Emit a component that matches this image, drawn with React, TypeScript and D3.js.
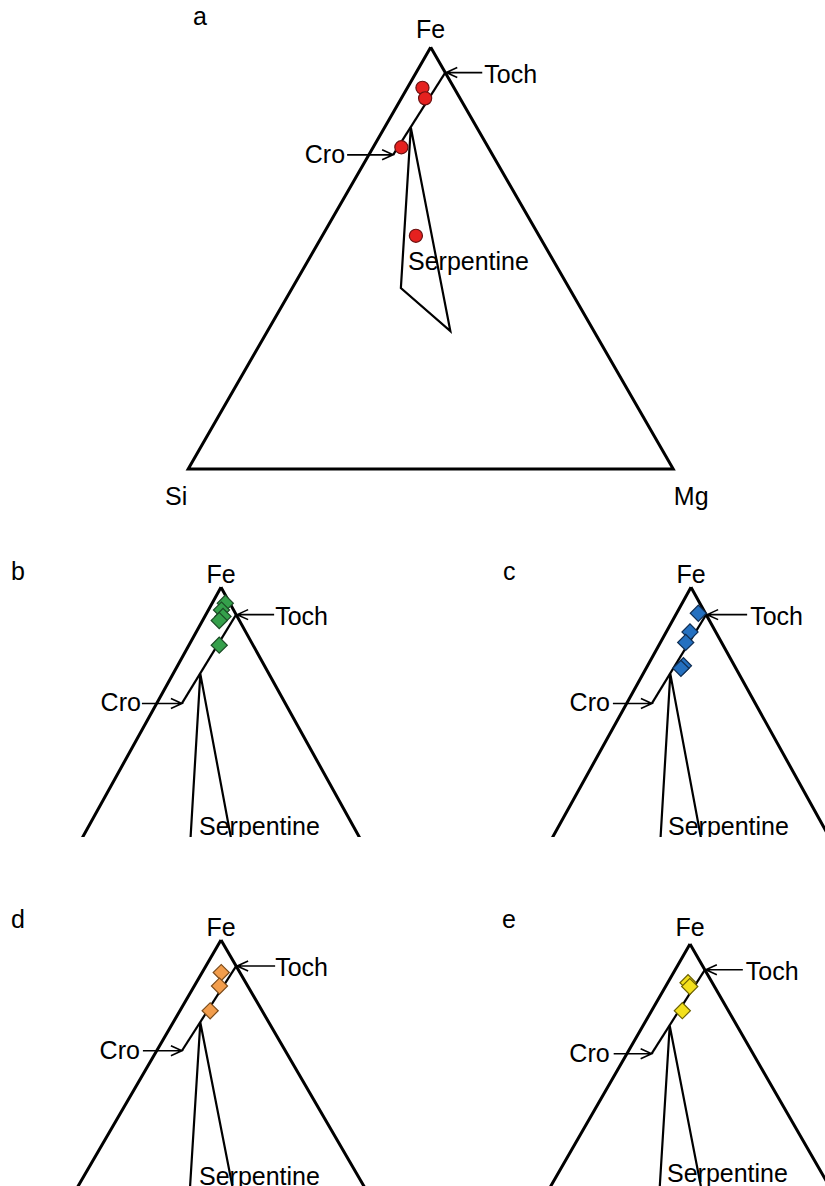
import React, { useEffect, useRef } from "react";
import * as d3 from "d3";

// compositions, fractions of Fe, Si, Mg
const corners = [
  { name: "Fe", fe: 1, si: 0, mg: 0 },
  { name: "Si", fe: 0, si: 1, mg: 0 },
  { name: "Mg", fe: 0, si: 0, mg: 1 },
];

// tochilinite -> cronstedtite tie line
const tochCroLine = [
  { fe: 0.94, si: 0.0, mg: 0.06 },
  { fe: 0.745, si: 0.205, mg: 0.05 },
];

const serpentineField = [
  { fe: 0.81, si: 0.136, mg: 0.054 },
  { fe: 0.429, si: 0.347, mg: 0.224 },
  { fe: 0.327, si: 0.296, mg: 0.377 },
];

const samplesA = [
  { fe: 0.904, si: 0.065, mg: 0.031 },
  { fe: 0.879, si: 0.072, mg: 0.049 },
  { fe: 0.763, si: 0.179, mg: 0.058 },
  { fe: 0.553, si: 0.254, mg: 0.193 },
];

const samplesB = [
  { fe: 0.965, si: 0.009, mg: 0.026 },
  { fe: 0.95, si: 0.024, mg: 0.026 },
  { fe: 0.936, si: 0.028, mg: 0.036 },
  { fe: 0.927, si: 0.04, mg: 0.033 },
  { fe: 0.873, si: 0.067, mg: 0.06 },
];

const samplesC = [
  { fe: 0.943, si: 0.014, mg: 0.043 },
  { fe: 0.902, si: 0.051, mg: 0.047 },
  { fe: 0.879, si: 0.071, mg: 0.05 },
  { fe: 0.828, si: 0.101, mg: 0.071 },
  { fe: 0.822, si: 0.109, mg: 0.069 },
];

const samplesD = [
  { fe: 0.925, si: 0.037, mg: 0.038 },
  { fe: 0.894, si: 0.056, mg: 0.05 },
  { fe: 0.837, si: 0.103, mg: 0.06 },
];

const samplesE = [
  { fe: 0.91, si: 0.049, mg: 0.041 },
  { fe: 0.901, si: 0.05, mg: 0.049 },
  { fe: 0.845, si: 0.093, mg: 0.062 },
];

const HALF = 242.5;
const HEIGHT = 421.7;
const FONT = "'Liberation Sans', Arial, sans-serif";

const panels = [
  {
    id: "a", apex: [430.7, 47.3], kx: 1, ky: 1, clip: null, data: samplesA,
    marker: "circle", fill: "#e5211f", stroke: "#6a1010",
    letter: [200, 25], letterAnchor: "middle", feDy: -9, corners: true,
    toch: [36, 38], cro: [46, 48], serp: [408, 270],
  },
  {
    id: "b", apex: [221, 587.3], kx: 1.04, ky: 1.08, clip: 837, data: samplesB,
    marker: "diamond", fill: "#35a04b", stroke: "#1b4a25",
    letter: [11, 580], letterAnchor: "start", feDy: -4, corners: false,
    toch: [37, 38], cro: [40, 41], serp: [199, 835],
  },
  {
    id: "c", apex: [691, 587.3], kx: 1.04, ky: 1.08, clip: 837, data: samplesC,
    marker: "diamond", fill: "#2470c0", stroke: "#0f2d52",
    letter: [503, 580], letterAnchor: "start", feDy: -4, corners: false,
    toch: [40, 43], cro: [39, 42], serp: [668, 835],
  },
  {
    id: "d", apex: [221, 940], kx: 1.04, ky: 1.03, clip: null, data: samplesD,
    marker: "diamond", fill: "#f29d4c", stroke: "#7a4a1a",
    letter: [11, 928], letterAnchor: "start", feDy: -4, corners: false,
    toch: [38, 38], cro: [39, 42], serp: [199, 1185],
  },
  {
    id: "e", apex: [690, 944], kx: 1.02, ky: 1.02, clip: null, data: samplesE,
    marker: "diamond", fill: "#f3e01c", stroke: "#6b6000",
    letter: [502, 928], letterAnchor: "start", feDy: -8, corners: false,
    toch: [37, 40], cro: [38, 42], serp: [667, 1182],
  },
];

const App = () => {
  const svgRef = useRef<SVGSVGElement>(null);

  useEffect(() => {
    const svg = d3.select(svgRef.current);
    svg.selectAll("*").remove();

    const defs = svg.append("defs");

    panels.forEach((p) => {
      const x = d3.scaleLinear()
        .domain([-1, 1])
        .range([p.apex[0] - HALF * p.kx, p.apex[0] + HALF * p.kx]);
      const y = d3.scaleLinear()
        .domain([1, 0])
        .range([p.apex[1], p.apex[1] + HEIGHT * p.ky]);
      const px = (d) => x(d.mg - d.si);
      const py = (d) => y(d.fe);
      const line = d3.line().x(px).y(py);

      const g = svg.append("g");
      let body = g;
      if (p.clip) {
        defs.append("clipPath").attr("id", "clip-" + p.id)
          .append("rect")
          .attr("x", p.apex[0] - 300).attr("y", 0)
          .attr("width", 600).attr("height", p.clip);
        body = g.append("g").attr("clip-path", `url(#clip-${p.id})`);
      }

      // triangle
      body.append("path")
        .attr("d", line([...corners, corners[0]]))
        .attr("fill", "none")
        .attr("stroke", "#000")
        .attr("stroke-width", 3)
        .attr("stroke-linejoin", "miter");

      body.append("path")
        .attr("d", line(tochCroLine))
        .attr("fill", "none")
        .attr("stroke", "#000")
        .attr("stroke-width", 2.2);

      body.append("path")
        .attr("d", line([...serpentineField, serpentineField[0]]))
        .attr("fill", "none")
        .attr("stroke", "#000")
        .attr("stroke-width", 2.2);

      body.append("text")
        .attr("x", p.serp[0]).attr("y", p.serp[1])
        .attr("font-family", FONT).attr("font-size", 25)
        .text("Serpentine");

      // arrows
      const arrow = (tip, len, dir) => {
        const [tx, ty] = tip;
        body.append("path")
          .attr("d", `M${tx + dir * len},${ty}L${tx},${ty}` +
            `M${tx + dir * 11},${ty - 5}L${tx},${ty}L${tx + dir * 11},${ty + 5}`)
          .attr("fill", "none")
          .attr("stroke", "#000")
          .attr("stroke-width", 1.6);
      };
      const tochTip = [px(tochCroLine[0]) + 1, py(tochCroLine[0])];
      const croTip = [px(tochCroLine[1]), py(tochCroLine[1])];
      arrow(tochTip, p.toch[0], 1);
      arrow(croTip, p.cro[0], -1);

      body.append("text")
        .attr("x", tochTip[0] + p.toch[1]).attr("y", tochTip[1] + 10)
        .attr("font-family", FONT).attr("font-size", 25)
        .text("Toch");
      body.append("text")
        .attr("x", croTip[0] - p.cro[1]).attr("y", croTip[1] + 8)
        .attr("text-anchor", "end")
        .attr("font-family", FONT).attr("font-size", 25)
        .text("Cro");

      // samples
      const sym = p.marker === "circle"
        ? d3.symbol(d3.symbolCircle, 135)
        : d3.symbol(d3.symbolSquare, 130);
      body.selectAll(".pt")
        .data(p.data)
        .join("path")
        .attr("d", sym)
        .attr("transform", (d) =>
          `translate(${px(d)},${py(d)})` + (p.marker === "diamond" ? " rotate(45)" : ""))
        .attr("fill", p.fill)
        .attr("stroke", p.stroke)
        .attr("stroke-width", 1.2);

      // labels
      g.append("text")
        .attr("x", p.letter[0]).attr("y", p.letter[1])
        .attr("text-anchor", p.letterAnchor)
        .attr("font-family", FONT).attr("font-size", 25)
        .text(p.id);

      g.append("text")
        .attr("x", px(corners[0])).attr("y", py(corners[0]) + p.feDy)
        .attr("text-anchor", "middle")
        .attr("font-family", FONT).attr("font-size", 25)
        .text(corners[0].name);

      if (p.corners) {
        g.append("text")
          .attr("x", px(corners[1]) - 12).attr("y", py(corners[1]) + 36)
          .attr("text-anchor", "middle")
          .attr("font-family", FONT).attr("font-size", 25)
          .text(corners[1].name);
        g.append("text")
          .attr("x", px(corners[2]) + 18).attr("y", py(corners[2]) + 36)
          .attr("text-anchor", "middle")
          .attr("font-family", FONT).attr("font-size", 25)
          .text(corners[2].name);
      }
    });
  }, []);

  return (
    <svg
      ref={svgRef}
      width={825}
      height={1186}
      style={{ position: "absolute", left: 0, top: 0, background: "#fff" }}
    />
  );
};

export default App;
